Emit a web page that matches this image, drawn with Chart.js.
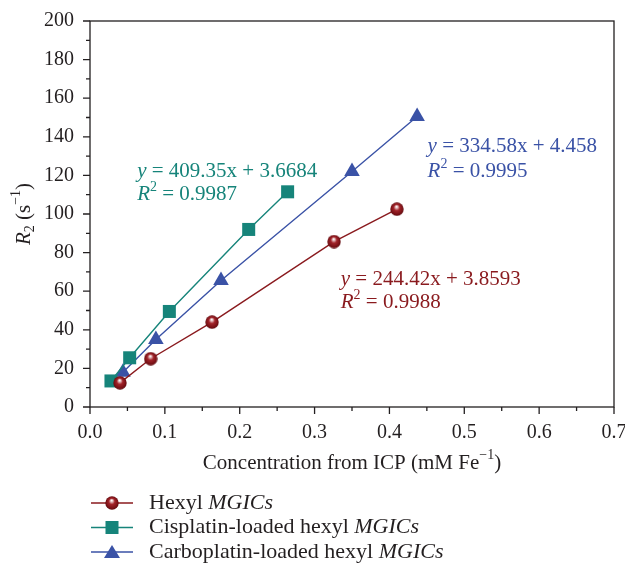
<!DOCTYPE html>
<html><head><meta charset="utf-8">
<script src="https://cdn.jsdelivr.net/npm/chart.js@4"></script>
<style>html,body{margin:0;padding:0;background:#fff}</style>
</head><body>
<canvas id="c" width="625" height="566"></canvas>
<script>
// ---- data ----
const seriesNames = ["Hexyl", "Cisplatin-loaded hexyl", "Carboplatin-loaded hexyl"];
const hexylX = [0.040, 0.081, 0.163, 0.326, 0.410];
const hexylY = [12.5, 25.0, 44.0, 85.7, 102.5];
const cisX = [0.028, 0.053, 0.106, 0.212, 0.264];
const cisY = [13.5, 25.5, 49.5, 92.0, 111.5];
const carboX = [0.044, 0.088, 0.175, 0.350, 0.437];
const carboY = [18.0, 35.0, 65.5, 122.0, 150.5];
const xTicks = [0, 0.1, 0.2, 0.3, 0.4, 0.5, 0.6, 0.7];
const yTicks = [0, 20, 40, 60, 80, 100, 120, 140, 160, 180, 200];
const fitEquations = ["409.35x + 3.6684", "334.58x + 4.458", "244.42x + 3.8593"];
const fitR2 = ["0.9987", "0.9995", "0.9988"];

// ---- styles ----
const RED = "#8a1a1e", TEAL = "#16847a", BLUE = "#3a52a6", INK = "#231f20";
const FONT = '"Liberation Serif", "DejaVu Serif", serif';
const TXT = 21;

function sphere(d) {
  const c = document.createElement('canvas'); c.width = d; c.height = d;
  const g = c.getContext('2d'); const r = d / 2;
  const grad = g.createRadialGradient(r * 0.95, r * 0.62, r * 0.05, r, r, r);
  grad.addColorStop(0, '#ffffff'); grad.addColorStop(0.18, '#d9a3a5');
  grad.addColorStop(0.4, '#a3252b'); grad.addColorStop(0.8, '#7a1116'); grad.addColorStop(1, '#5a0a0e');
  g.fillStyle = grad; g.beginPath(); g.arc(r, r, r - 0.3, 0, Math.PI * 2); g.fill();
  return c;
}
const ball = sphere(14);

const toPts = (xs, ys) => xs.map((x, i) => ({ x, y: ys[i] }));

function fontFor(s, size) {
  const sz = (s.sup || s.sub) ? Math.round(size * 0.66) : size;
  return (s.italic ? 'italic ' : '') + sz + 'px ' + FONT;
}
function drawRich(ctx, segs, x, y, size, color, align) {
  ctx.fillStyle = color; ctx.textBaseline = 'middle'; ctx.textAlign = 'left';
  let w = 0;
  segs.forEach(s => { ctx.font = fontFor(s, size); w += ctx.measureText(s.t).width; });
  let cx = align === 'center' ? x - w / 2 : x;
  segs.forEach(s => {
    ctx.font = fontFor(s, size);
    const dy = s.sup ? -size * 0.36 : (s.sub ? size * 0.28 : 0);
    ctx.fillText(s.t, cx, y + dy);
    cx += ctx.measureText(s.t).width;
  });
}

// annotation placement in data units (left x, y of equation line, y of R2 line)
const annotations = [
  { color: TEAL, x: 0.063, y1: 122, y2: 110 },
  { color: BLUE, x: 0.451, y1: 135, y2: 121.8 },
  { color: RED, x: 0.335, y1: 66, y2: 54 }
];

const decor = {
  id: 'decor',
  beforeDatasetsDraw(chart) {
    const ctx = chart.ctx, a = chart.chartArea;
    const xs = chart.scales.x, ys = chart.scales.y;
    ctx.save();
    ctx.strokeStyle = INK; ctx.lineWidth = 1.3;
    ctx.strokeRect(a.left, a.top, a.right - a.left, a.bottom - a.top);
    ctx.beginPath();
    for (let i = 0; i < yTicks.length; i++) {
      const p = ys.getPixelForValue(yTicks[i]);
      ctx.moveTo(a.left - 7, p); ctx.lineTo(a.left, p);
      if (i < yTicks.length - 1) {
        const m = ys.getPixelForValue((yTicks[i] + yTicks[i + 1]) / 2);
        ctx.moveTo(a.left - 4, m); ctx.lineTo(a.left, m);
      }
    }
    for (let i = 0; i < xTicks.length; i++) {
      const p = xs.getPixelForValue(xTicks[i]);
      ctx.moveTo(p, a.bottom); ctx.lineTo(p, a.bottom + 7);
      if (i < xTicks.length - 1) {
        const m = xs.getPixelForValue((xTicks[i] + xTicks[i + 1]) / 2);
        ctx.moveTo(m, a.bottom); ctx.lineTo(m, a.bottom + 4);
      }
    }
    ctx.stroke();
    ctx.restore();
  },
  afterDraw(chart) {
    const ctx = chart.ctx, a = chart.chartArea;
    const xs = chart.scales.x, ys = chart.scales.y;
    ctx.save();
    // axis titles
    drawRich(ctx, [{ t: 'Concentration from ICP (mM Fe' }, { t: '\u22121', sup: true }, { t: ')' }],
      (a.left + a.right) / 2, a.bottom + 56, TXT, INK, 'center');
    ctx.save();
    ctx.translate(a.left - 66, (a.top + a.bottom) / 2);
    ctx.rotate(-Math.PI / 2);
    drawRich(ctx, [{ t: 'R', italic: true }, { t: '2', sub: true }, { t: ' (s' }, { t: '\u22121', sup: true }, { t: ')' }],
      0, 0, TXT, INK, 'center');
    ctx.restore();
    // fit annotations
    annotations.forEach((an, i) => {
      const x = xs.getPixelForValue(an.x);
      drawRich(ctx, [{ t: 'y', italic: true }, { t: ' = ' + fitEquations[i] }], x, ys.getPixelForValue(an.y1), TXT, an.color, 'left');
      drawRich(ctx, [{ t: 'R', italic: true }, { t: '2', sup: true }, { t: ' = ' + fitR2[i] }], x, ys.getPixelForValue(an.y2), TXT, an.color, 'left');
    });
    // legend
    const items = [
      { color: RED, style: 'ball' }, { color: TEAL, style: 'rect' }, { color: BLUE, style: 'triangle' }
    ];
    items.forEach((it, i) => {
      const y = 503 + i * 24.5;
      const lx = a.left + 1;
      ctx.strokeStyle = it.color; ctx.lineWidth = 1.5;
      ctx.beginPath(); ctx.moveTo(lx, y); ctx.lineTo(lx + 42, y); ctx.stroke();
      const mx = lx + 21;
      ctx.fillStyle = it.color;
      if (it.style === 'ball') ctx.drawImage(ball, mx - 7, y - 7);
      else if (it.style === 'rect') ctx.fillRect(mx - 6.5, y - 6.5, 13, 13);
      else { ctx.beginPath(); ctx.moveTo(mx, y - 7); ctx.lineTo(mx + 8, y + 6); ctx.lineTo(mx - 8, y + 6); ctx.closePath(); ctx.fill(); }
      drawRich(ctx, [{ t: seriesNames[i] + ' ' }, { t: 'MGICs', italic: true }], lx + 58, y, 22, INK, 'left');
    });
    ctx.restore();
  }
};

new Chart(document.getElementById('c'), {
  type: 'scatter',
  data: {
    datasets: [
      { label: seriesNames[0], data: toPts(hexylX, hexylY), showLine: true, borderColor: RED, borderWidth: 1.4,
        pointStyle: ball, pointRadius: 7, backgroundColor: RED },
      { label: seriesNames[1], data: toPts(cisX, cisY), showLine: true, borderColor: TEAL, borderWidth: 1.4,
        pointStyle: 'rect', pointRadius: 9.2, backgroundColor: TEAL, pointBorderWidth: 0 },
      { label: seriesNames[2], data: toPts(carboX, carboY), showLine: true, borderColor: BLUE, borderWidth: 1.4,
        pointStyle: 'triangle', pointRadius: 9, backgroundColor: BLUE, pointBorderWidth: 0 }
    ]
  },
  options: {
    responsive: false, animation: false,
    layout: { padding: { top: 21, right: 11, left: 0, bottom: 0 } },
    plugins: { legend: { display: false }, tooltip: { enabled: false } },
    scales: {
      x: {
        type: 'linear', min: 0, max: 0.7,
        afterBuildTicks: s => { s.ticks = xTicks.map(v => ({ value: v })); },
        afterFit: s => { s.height = 159; s.paddingLeft = 0; s.paddingRight = 0; },
        grid: { display: false, drawTicks: false }, border: { display: false },
        ticks: { padding: 14, color: INK, font: { family: FONT, size: 20 }, callback: v => Number(v).toFixed(1), maxRotation: 0 }
      },
      y: {
        type: 'linear', min: 0, max: 200,
        afterBuildTicks: s => { s.ticks = yTicks.map(v => ({ value: v })); },
        afterFit: s => { s.width = 90; s.paddingTop = 0; s.paddingBottom = 0; },
        grid: { display: false, drawTicks: false }, border: { display: false },
        ticks: { padding: 16, color: INK, font: { family: FONT, size: 20 } }
      }
    }
  },
  plugins: [decor]
});
</script>
</body></html>
